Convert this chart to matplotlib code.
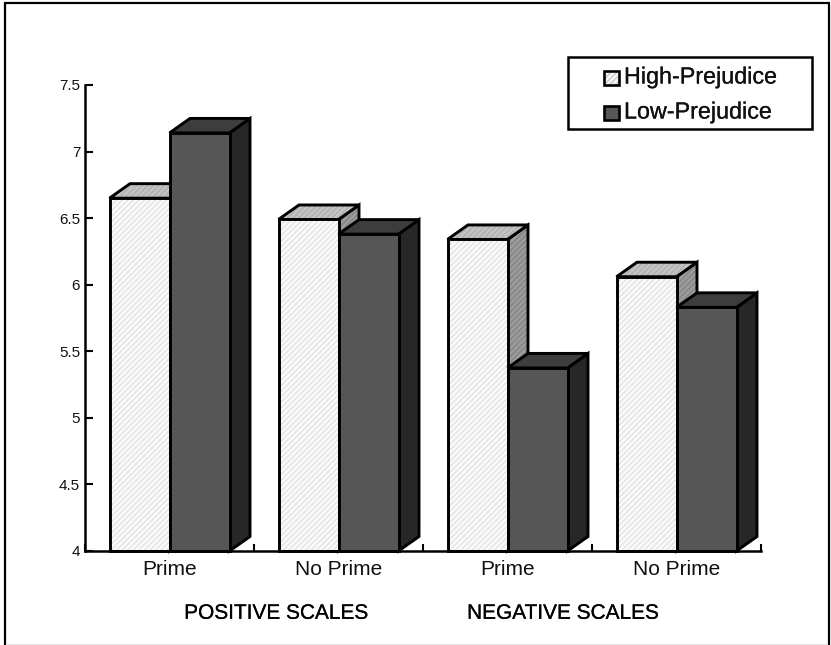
import matplotlib
matplotlib.use("Agg")
import matplotlib.pyplot as plt
import matplotlib.patheffects as pe
from matplotlib.lines import Line2D
from matplotlib.patches import Polygon, Rectangle

plt.rcParams['font.family'] = ['Liberation Sans', 'DejaVu Sans']
plt.rcParams['hatch.linewidth'] = 1.6

categories = ["Prime", "No Prime", "Prime", "No Prime"]
high_prejudice = [6.65, 6.49, 6.34, 6.06]
low_prejudice = [7.14, 6.38, 5.375, 5.83]
y_ticks = [4, 4.5, 5, 5.5, 6, 6.5, 7, 7.5]
y_tick_labels = ["4", "4.5", "5", "5.5", "6", "6.5", "7", "7.5"]
series_names = ["High-Prejudice", "Low-Prejudice"]
group_labels = ["POSITIVE SCALES", "NEGATIVE SCALES"]

W, H = 831, 645
fig = plt.figure(figsize=(W / 100, H / 100), dpi=100, facecolor="white")

# outer frame (its lower edge falls just past the canvas, leaving a faint line)
fig.add_artist(Rectangle((4.5 / W, 1 - 652 / H), 824 / W, 649 / H, transform=fig.transFigure,
                         fill=False, edgecolor="black", linewidth=1.6))
fig.add_artist(Line2D([6 / W, 827 / W], [1 - 644 / H, 1 - 644 / H], transform=fig.transFigure,
                      color="#e4e4e4", linewidth=0.8))

AX_L, AX_R, AX_T, AX_B = 85, 761, 85, 551
ax = fig.add_axes([AX_L / W, 1 - AX_B / H, (AX_R - AX_L) / W, (AX_B - AX_T) / H])
ax.set_xlim(0, 4)
ax.set_ylim(4, 7.5)
ax.patch.set_alpha(0)
for s in ("top", "right"):
    ax.spines[s].set_visible(False)
for s in ("left", "bottom"):
    ax.spines[s].set_linewidth(1.8)

ax.set_yticks(y_ticks)
ax.set_yticklabels(y_tick_labels, fontsize=11, color="#111111")
ax.tick_params(axis="y", direction="in", length=5.5, width=1.5, pad=3.5)
ax.set_xticks(range(5))
ax.set_xticklabels([])
ax.tick_params(axis="x", direction="in", length=5, width=1.5)

px_x = 4 / (AX_R - AX_L)
px_y = 3.5 / (AX_B - AX_T)
DX = 20.5 * px_x
DY = 14.5 * px_y
BW = 60 * px_x
LW = 2.1


def face_poly(points, face, edge_hatch=None, hatch=None, z=2):
    ax.add_patch(Polygon(points, facecolor=face, edgecolor=edge_hatch or face, linewidth=0,
                         hatch=hatch, zorder=z, clip_on=False))
    ax.add_patch(Polygon(points, facecolor="none", edgecolor="black", linewidth=LW, zorder=z,
                         joinstyle="miter", clip_on=False))


def bar3d(x0, top, face, top_face, side_face, hatched=False, z=2):
    x1 = x0 + BW
    b = 4
    face_poly([(x1, b), (x1 + DX, b + DY), (x1 + DX, top + DY), (x1, top)], side_face,
              "#8a8a8a" if hatched else None, "//////" if hatched else None, z)
    face_poly([(x0, top), (x0 + DX, top + DY), (x1 + DX, top + DY), (x1, top)], top_face,
              "#b4b4b4" if hatched else None, "//////" if hatched else None, z)
    face_poly([(x0, b), (x1, b), (x1, top), (x0, top)], face,
              "#e8e8e8" if hatched else None, "//////" if hatched else None, z)


for i, (hi, lo) in enumerate(zip(high_prejudice, low_prejudice)):
    c = i + 0.5
    bar3d(c - BW, hi, "white", "#c8c8c8", "#a0a0a0", hatched=True, z=2 + i * 0.1)
    bar3d(c, lo, "#565656", "#3d3d3d", "#272727", z=2.05 + i * 0.1)
    ax.annotate(categories[i], (c, 4), xytext=(0, -6.5), textcoords="offset points",
                ha="center", va="top", fontsize=15, color="#111111", annotation_clip=False)

stroke = [pe.withStroke(linewidth=0.15, foreground="black")]
for lab, xc in zip(group_labels, (1.133, 2.83)):
    ax.annotate(lab, (xc, 4), xytext=(0, -38), textcoords="offset points", ha="center",
                va="top", fontsize=15, color="black", annotation_clip=False, path_effects=stroke)

# legend box
fig.add_artist(Rectangle((568 / W, 1 - 129 / H), 244 / W, 72 / H, transform=fig.transFigure,
                         facecolor="white", edgecolor="black", linewidth=1.8, zorder=6))
for name, yc, face, hatch in zip(series_names, (77.5, 112.5), ("white", "#565656"), ("//////", None)):
    fig.add_artist(Rectangle((604 / W, 1 - (yc + 7) / H), 15 / W, 14 / H, transform=fig.transFigure,
                             facecolor=face, edgecolor="#d4d4d4" if hatch else "#565656", hatch=hatch,
                             linewidth=0, zorder=7))
    fig.add_artist(Rectangle((604 / W, 1 - (yc + 7) / H), 15 / W, 14 / H, transform=fig.transFigure,
                             fill=False, edgecolor="black", linewidth=1.9, zorder=7))
    fig.text(624 / W, 1 - (yc - 0.5) / H, name, fontsize=16.8, va="center", ha="left", color="#111111",
             zorder=7, path_effects=stroke)

fig.savefig("out.png", dpi=100, facecolor="white")
